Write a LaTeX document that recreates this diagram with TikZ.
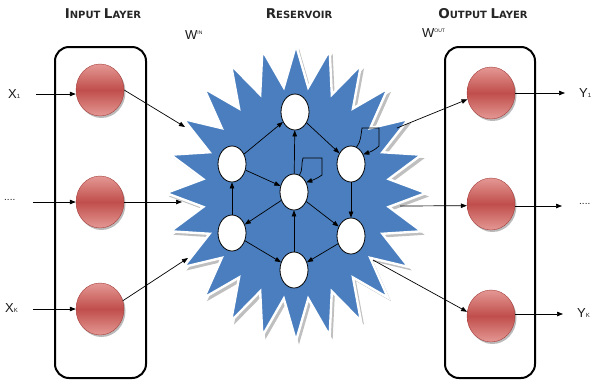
\documentclass[tikz,border=0pt]{standalone}
\usepackage{fontspec}
\setmainfont{Liberation Sans}
\newfontfamily\titlefont{DejaVu Sans}
\usetikzlibrary{arrows.meta,shadows,shapes.geometric}
\definecolor{starblue}{RGB}{74,126,190}
\definecolor{rdark}{RGB}{192,78,75}
\definecolor{rlight}{RGB}{228,152,148}
\definecolor{redge}{RGB}{165,62,60}
\newcommand{\ttl}[2]{{\fontsize{13.5}{13.5}\selectfont #1}{\fontsize{10}{10}\selectfont #2}}
\newcommand{\lbl}[2]{{\fontsize{13}{13}\selectfont #1}{\fontsize{6}{6}\selectfont #2}}
\tikzset{
  arr/.style={-{Triangle[length=6pt,width=4.5pt]}, line width=0.7pt, black},
  layerbox/.style={draw=black, line width=2pt, rounded corners=14pt},
  neuron/.style={ellipse, minimum width=48pt, minimum height=52pt, inner sep=0pt,
    draw=redge, line width=0.4pt, top color=rlight, bottom color=rlight, middle color=rdark,
    drop shadow={shadow xshift=1.5pt, shadow yshift=-2pt, fill=black!60, opacity=0.45}},
  rnode/.style={ellipse, minimum width=28pt, minimum height=36pt, inner sep=0pt,
    draw=black, line width=0.8pt, fill=white},
  title/.style={font=\titlefont\bfseries, text=black!85},
  txt/.style={inner sep=0pt, text=black!90}
}
\begin{document}
\begin{tikzpicture}[x=1pt,y=-1pt]
\useasboundingbox (0,0) rectangle (591,381);
% reservoir star (24 points)
\fill[black!25, shift={(3,3.5)}] ({296+130*cos(90)},{193+148*sin(90)})
  \foreach \k in {1,...,47} { -- ({296+130*(mod(\k,2)==0?1:0.72)*cos(90+\k*7.5)},{193+148*(mod(\k,2)==0?1:0.72)*sin(90+\k*7.5)}) } -- cycle;
\filldraw[starblue, draw=white, line width=2.4pt, line join=miter] ({296+130*cos(90)},{193+148*sin(90)})
  \foreach \k in {1,...,47} { -- ({296+130*(mod(\k,2)==0?1:0.72)*cos(90+\k*7.5)},{193+148*(mod(\k,2)==0?1:0.72)*sin(90+\k*7.5)}) } -- cycle;
% titles
\node[title] (tin) at (103,14) {\ttl{I}{NPUT} \ttl{L}{AYER}};
\node[title] (tres) at (299,14) {\ttl{R}{ESERVOIR}};
\node[title] (tout) at (483,14) {\ttl{O}{UTPUT} \ttl{L}{AYER}};
\node[txt, anchor=west] (win) at (185,35) {{\fontsize{13}{13}\selectfont W}\raisebox{4.5pt}{\fontsize{5}{5}\selectfont IN}};
\node[txt, anchor=west] (wout) at (422,33) {{\fontsize{13}{13}\selectfont W}\raisebox{4.5pt}{\fontsize{5}{5}\selectfont OUT}};
% layer boxes
\draw[layerbox] (55,47) rectangle (146,378);
\draw[layerbox] (445,47) rectangle (535,378);
% input neurons
\node[neuron] (i1) at (100,90) {};
\node[neuron] (i2) at (100,202) {};
\node[neuron] (i3) at (100,309) {};
% output neurons
\node[neuron] (o1) at (491,93) {};
\node[neuron] (o2) at (491,204) {};
\node[neuron] (o3) at (491,316) {};
% input labels
\node[txt, anchor=west] (x1) at (8,94) {\lbl{X}{1}};
\node[txt, anchor=west] (x2) at (4,200) {{\fontsize{10}{10}\selectfont ....}};
\node[txt, anchor=west] (x3) at (5,308) {\lbl{X}{K}};
\coordinate (x1e) at (36,94);
\coordinate (x2e) at (33,202);
\coordinate (x3e) at (33,309);
\draw[arr] (x1e) -- (i1.west |- x1e);
\draw[arr] (x2e) -- (i2.west);
\draw[arr] (x3e) -- (i3.west);
% input to reservoir
\coordinate (r1) at (185,127);
\coordinate (r2) at (182,202);
\coordinate (r3) at (188,258);
\draw[arr] (i1.east) -- (r1);
\draw[arr] (i2.east) -- (r2);
\draw[arr] (i3.20) -- (r3);
% reservoir to output
\coordinate (s1) at (397,128);
\coordinate (s2) at (400,206);
\coordinate (s3) at (373,260);
\draw[arr] (s1) -- (o1.195);
\draw[arr] (s2) -- (o2.184);
\draw[arr] (s3) -- (o3.170);
% outputs
\coordinate (y1e) at (565,93);
\coordinate (y2e) at (562,206);
\coordinate (y3e) at (563,314);
\draw[arr] (o1.east) -- (y1e);
\draw[arr] (o2.east |- y2e) -- (y2e);
\draw[arr] (o3.east |- y3e) -- (y3e);
\node[txt, anchor=west] (y1) at (579,93) {\lbl{Y}{1}};
\node[txt, anchor=west] (y2) at (579,204) {{\fontsize{10}{10}\selectfont ....}};
\node[txt, anchor=west] (y3) at (577,313) {\lbl{Y}{K}};
% reservoir nodes
\node[rnode] (rt) at (295,112) {};
\node[rnode] (rlu) at (232,164) {};
\node[rnode] (rru) at (351,164) {};
\node[rnode] (rc) at (294,192) {};
\node[rnode] (rll) at (232,233) {};
\node[rnode] (rrl) at (351,236) {};
\node[rnode] (rb) at (294,270) {};
\draw[arr] (rlu) -- (rt);
\draw[arr] (rt) -- (rru);
\draw[arr] (rlu) -- (rc);
\draw[arr] (rc) -- (rt);
\draw[arr] (rc) -- (rll);
\draw[arr] (rc) -- (rrl);
\draw[arr] (rll) -- (rlu);
\draw[arr] (rru) -- (rrl);
\draw[arr] (rll) -- (rb);
\draw[arr] (rrl) -- (rb);
\draw[arr] (rb) -- (rc);
% self loops
\draw[arr] (rc.72) .. controls (303,170) and (301,164) .. (303,158) -- (322,158) -- (322,175) .. controls (318,178) and (313,180) .. (rc.38);
\draw[arr] (rru.72) .. controls (361,142) and (361,134) .. (362,128) -- (379,128) -- (379,146) .. controls (375,150) and (370,152) .. (rru.38);
\end{tikzpicture}
\end{document}
